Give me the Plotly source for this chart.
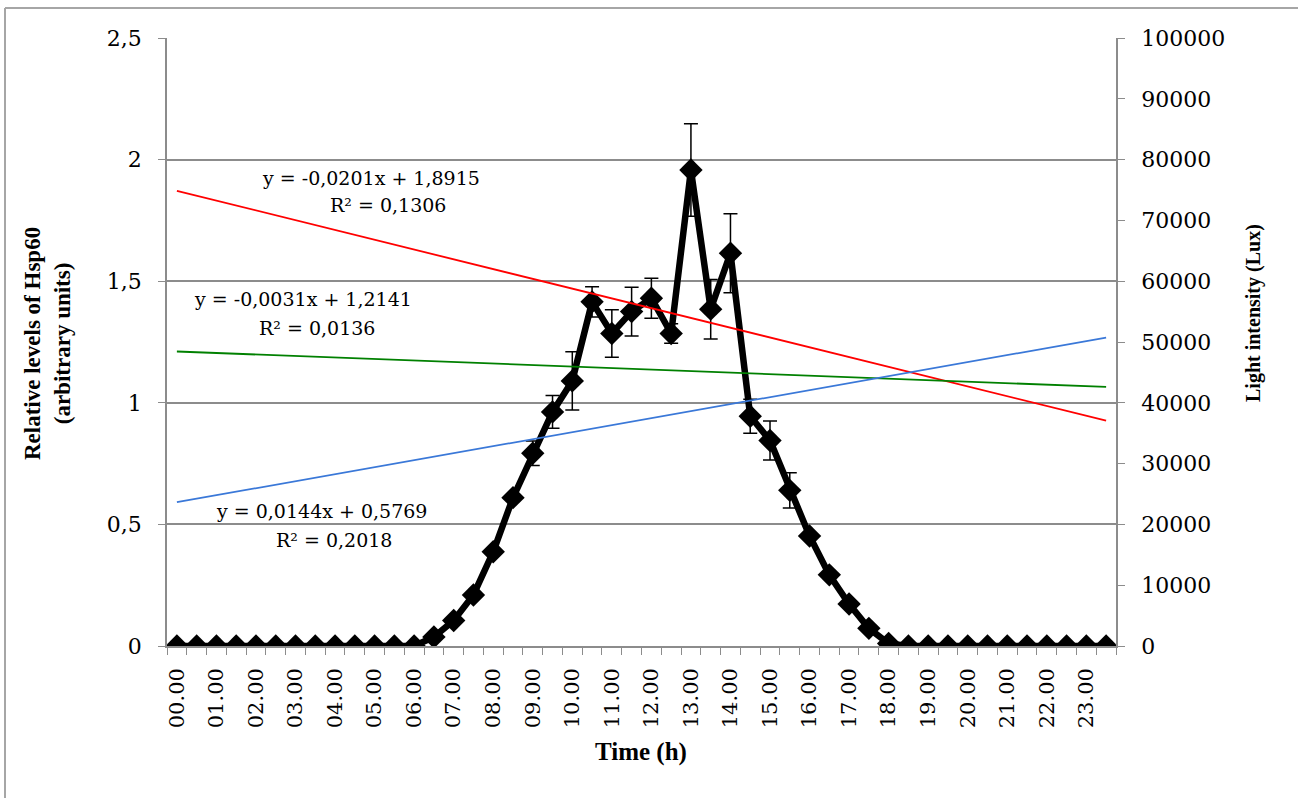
import plotly.graph_objects as go

# Half-hourly sampling times (hours after midnight) and hourly tick labels
times_h = [i * 0.5 for i in range(48)]
hour_ticks = list(range(24))
hour_labels = ["00.00", "01.00", "02.00", "03.00", "04.00", "05.00", "06.00",
               "07.00", "08.00", "09.00", "10.00", "11.00", "12.00", "13.00",
               "14.00", "15.00", "16.00", "17.00", "18.00", "19.00", "20.00",
               "21.00", "22.00", "23.00"]

# Light intensity (Lux) and its error, one value per half hour
lux = [0, 0, 0, 0, 0, 0, 0, 0, 0, 0, 0, 0, 0,
       1500, 4200, 8400, 15500, 24400, 31700, 38500, 43600, 56600, 51400,
       55000, 57200, 51400, 78300, 55400, 64600, 37800, 33800, 25600, 18100,
       11700, 6900, 2900, 400,
       0, 0, 0, 0, 0, 0, 0, 0, 0, 0, 0]
lux_err = [0, 0, 0, 0, 0, 0, 0, 0, 0, 0, 0, 0, 0,
           0, 0, 0, 0, 0, 2000, 2700, 4800, 2500, 3900,
           4000, 3300, 1600, 7600, 4900, 6500, 2800, 3200, 2900, 0,
           0, 0, 0, 0,
           0, 0, 0, 0, 0, 0, 0, 0, 0, 0, 0]

# Linear trendlines of Hsp60 levels (x = sample number 1..48)
trend_slopes = [-0.0201, -0.0031, 0.0144]
trend_intercepts = [1.8915, 1.2141, 0.5769]
trend_colors = ["#ff0000", "#008000", "#3a78d8"]
eq_labels = ["y = -0,0201x + 1,8915", "y = -0,0031x + 1,2141", "y = 0,0144x + 0,5769"]
r2_labels = ["R² = 0,1306", "R² = 0,0136", "R² = 0,2018"]

left_ticks = [0, 0.5, 1, 1.5, 2, 2.5]
left_labels = ["0", "0,5", "1", "1,5", "2", "2,5"]

W, H = 1298, 798
PL, PR, PT, PB = 167, 1116, 38, 646


def fx(px):
    return (px - PL) / (PR - PL)


def fy(py):
    return (PB - py) / (PB - PT)


GRAY = "#8c8c8c"
YTICK_FONT = dict(family="DejaVu Serif", size=22, color="black")
XTICK_FONT = dict(family="DejaVu Serif", size=21, color="black")
EQ_FONT = dict(family="DejaVu Serif", size=19, color="black")
LTITLE_FONT = dict(family="Liberation Serif", size=23, color="black")
RTITLE_FONT = dict(family="Liberation Serif", size=20, color="black")
XTITLE_FONT = dict(family="Liberation Serif", size=25, color="black")

fig = go.Figure()

fig.add_trace(go.Scatter(
    x=times_h, y=lux, yaxis="y", mode="lines+markers",
    line=dict(color="black", width=6.5),
    marker=dict(symbol="diamond", size=18, color="black"),
    error_y=dict(type="data", array=lux_err, color="black", thickness=1.5, width=7),
    showlegend=False,
))

n = len(times_h)
for a, b, c in zip(trend_slopes, trend_intercepts, trend_colors):
    fig.add_trace(go.Scatter(
        x=[times_h[0], times_h[-1]], y=[a * 1 + b, a * n + b], yaxis="y2",
        mode="lines", line=dict(color=c, width=1.8), showlegend=False,
    ))

# equation / R² labels: (line-1 centre x, line-1 y, line-2 centre x, line-2 y)
eq_pos = [(371, 178, 388, 205), (303, 299, 317, 328), (321, 511, 334, 540)]
annotations = []
for (x1, y1, x2, y2), eq, r2 in zip(eq_pos, eq_labels, r2_labels):
    annotations.append(dict(text=eq, x=fx(x1), y=fy(y1), xref="paper", yref="paper",
                            showarrow=False, font=EQ_FONT, xanchor="center", yanchor="middle"))
    annotations.append(dict(text=r2, x=fx(x2), y=fy(y2), xref="paper", yref="paper",
                            showarrow=False, font=EQ_FONT, xanchor="center", yanchor="middle"))

annotations += [
    dict(text="<b>Time (h)</b>", x=fx(641), y=fy(752), xref="paper", yref="paper",
         showarrow=False, font=XTITLE_FONT, xanchor="center", yanchor="middle"),
    dict(text="<b>Relative levels of Hsp60<br>(arbitrary units)</b>", x=fx(47), y=fy(343),
         xref="paper", yref="paper", showarrow=False, font=LTITLE_FONT, textangle=-90,
         xanchor="center", yanchor="middle"),
    dict(text="<b>Light intensity (Lux)</b>", x=fx(1253), y=fy(313),
         xref="paper", yref="paper", showarrow=False, font=RTITLE_FONT, textangle=-90,
         xanchor="center", yanchor="middle"),
]

# outer chart frame (left and top edges)
shapes = [
    dict(type="line", xref="paper", yref="paper", x0=fx(5), y0=fy(8), x1=fx(1310), y1=fy(8),
         line=dict(color="#a6a6a6", width=2)),
    dict(type="line", xref="paper", yref="paper", x0=fx(5), y0=fy(8), x1=fx(5), y1=fy(810),
         line=dict(color="#a6a6a6", width=2)),
]

fig.update_layout(
    width=W, height=H,
    margin=dict(l=PL, r=W - PR, t=PT, b=H - PB),
    paper_bgcolor="white", plot_bgcolor="white",
    annotations=annotations, shapes=shapes,
    xaxis=dict(
        range=[-0.25, 23.75], tickmode="array", tickvals=hour_ticks, ticktext=hour_labels,
        tickangle=-90, ticks="", showgrid=False, zeroline=False,
        showline=True, linecolor=GRAY, linewidth=1.5, tickfont=XTICK_FONT,
        ticklabelstandoff=12,
        minor=dict(ticks="outside", ticklen=7, tickcolor=GRAY, tickwidth=1.2,
                   tickmode="linear", tick0=-0.25, dtick=0.5, showgrid=False),
    ),
    yaxis=dict(
        side="right", range=[0, 100000], tickmode="linear", tick0=0, dtick=10000,
        tickformat="d", showgrid=False, zeroline=False,
        showline=True, linecolor=GRAY, linewidth=1.5,
        ticks="outside", ticklen=7, tickcolor=GRAY, tickwidth=1.2,
        tickfont=YTICK_FONT, ticklabelstandoff=12,
    ),
    yaxis2=dict(
        side="left", overlaying="y", range=[0, 2.5], tickmode="array",
        tickvals=left_ticks, ticktext=left_labels,
        showgrid=True, gridcolor=GRAY, gridwidth=1.5, zeroline=False,
        showline=True, linecolor=GRAY, linewidth=1.5,
        ticks="outside", ticklen=7, tickcolor=GRAY, tickwidth=1.2,
        tickfont=YTICK_FONT, ticklabelstandoff=12,
    ),
)

fig.write_html("out.html")
